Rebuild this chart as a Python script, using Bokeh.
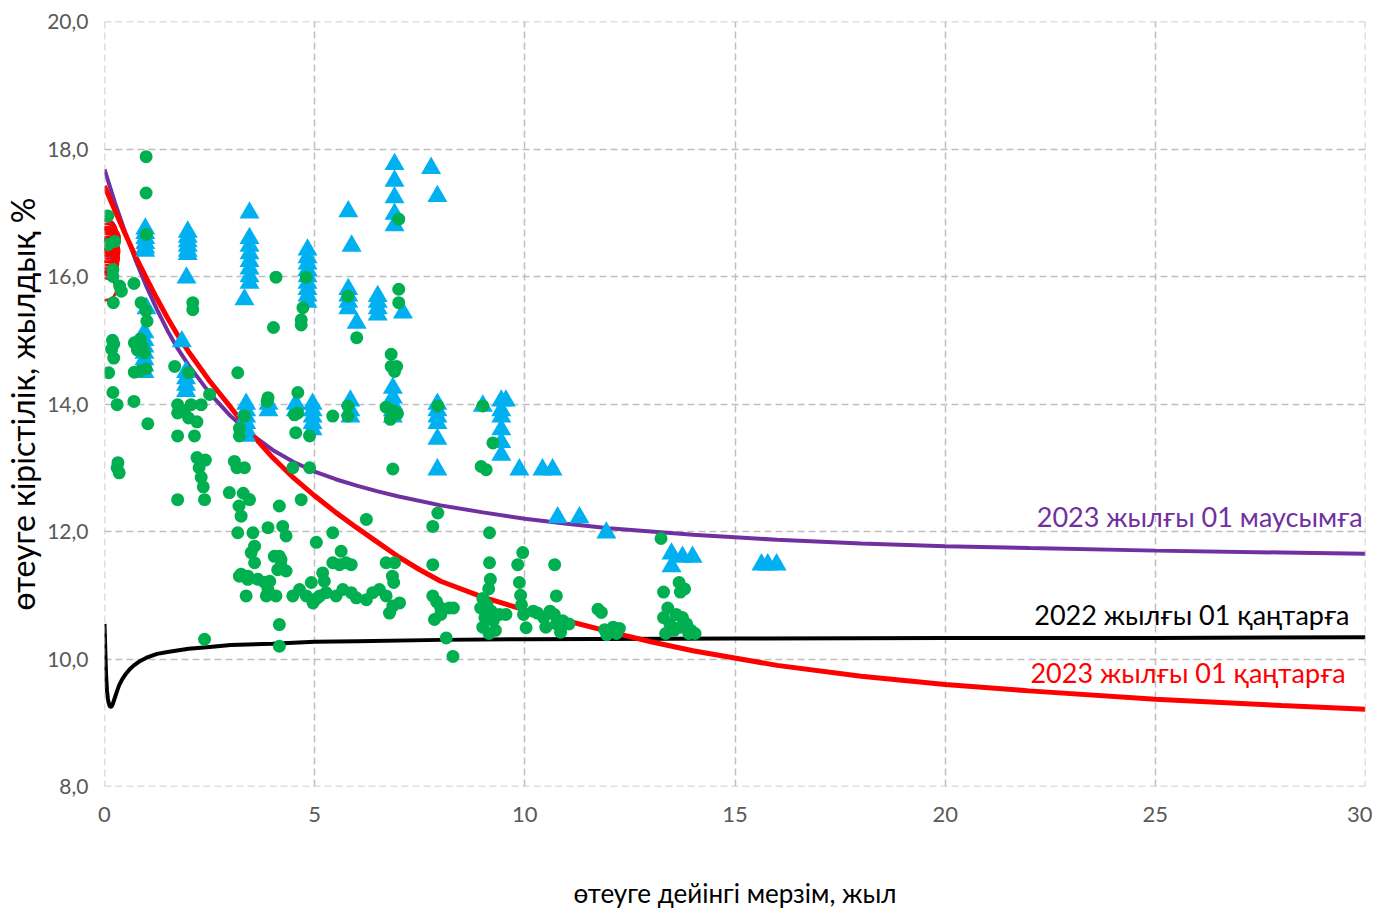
from bokeh.plotting import figure
from bokeh.models import Range1d, FixedTicker, Span
from bokeh.core.properties import value
from bokeh.embed import file_html
from bokeh.resources import INLINE

# ---------------- data ----------------
x_ticks = [0, 5, 10, 15, 20, 25, 30]
y_ticks = [8, 10, 12, 14, 16, 18, 20]
y_tick_labels = ["8,0", "10,0", "12,0", "14,0", "16,0", "18,0", "20,0"]

# fitted curves
jun23_x = [0, 0.25, 0.5, 0.75, 1, 1.25, 1.5, 1.75, 2, 2.5, 3, 3.5, 4, 4.5, 5, 5.5, 6, 6.5, 7, 8, 9, 10, 11, 12,
           14, 16, 18, 20, 22, 25, 28, 30]
jun23_y = [17.68, 17.155, 16.68, 16.24, 15.84, 15.48, 15.15, 14.86, 14.61, 14.17, 13.81, 13.52, 13.28, 13.09,
           12.94, 12.82, 12.72, 12.63, 12.55, 12.41, 12.3, 12.2, 12.12, 12.05, 11.95, 11.87, 11.81, 11.77,
           11.74, 11.7, 11.67, 11.65]

jan23_x = [0, 0.25, 0.5, 0.75, 1, 1.25, 1.5, 1.75, 2, 2.5, 3, 3.5, 4, 4.5, 5, 5.5, 6, 6.5, 7, 7.5, 8, 9, 10, 11,
           12, 13, 14, 16, 18, 20, 22, 25, 28, 30]
jan23_y = [17.42, 17.03, 16.66, 16.3, 15.97, 15.65, 15.35, 15.07, 14.82, 14.36, 13.95, 13.53, 13.16, 12.84,
           12.56, 12.3, 12.06, 11.83, 11.6, 11.4, 11.22, 10.97, 10.77, 10.6, 10.43, 10.27, 10.13, 9.9, 9.73,
           9.6, 9.5, 9.37, 9.27, 9.21]

jan22_x = [0, 0.01, 0.02, 0.03, 0.04, 0.06, 0.08, 0.1, 0.12, 0.14, 0.16, 0.18, 0.2, 0.25, 0.3, 0.35, 0.42, 0.5,
           0.6, 0.7, 0.85, 1, 1.25, 1.5, 2, 2.5, 3, 4, 5, 6, 8, 10, 15, 20, 25, 30]
jan22_y = [10.55, 10.35, 10.12, 9.9, 9.72, 9.5, 9.38, 9.31, 9.27, 9.25, 9.25, 9.27, 9.3, 9.4, 9.5, 9.59, 9.68,
           9.76, 9.84, 9.9, 9.97, 10.02, 10.08, 10.11, 10.16, 10.19, 10.22, 10.24, 10.27, 10.28, 10.3, 10.31,
           10.32, 10.33, 10.33, 10.34]

# observed yields — green dots
green_x = [0.08, 0.08, 0.24, 0.20, 0.20, 0.36, 0.40, 0.21, 0.19, 0.22,
           0.17, 0.22, 0.10, 0.20, 0.30, 0.32, 0.30, 0.35, 0.70, 0.99,
           0.99, 0.99, 0.87, 0.99, 1.01, 0.71, 0.85, 0.90, 0.95, 0.78,
           0.71, 0.85, 0.99, 0.70, 1.03, 2.10, 2.10, 1.67, 2.00, 1.74,
           1.74, 2.06, 2.30, 2.50, 1.90, 2.00, 2.20, 1.74, 2.14, 2.20,
           2.30, 2.40, 2.25, 2.30, 2.35, 1.74, 2.38, 2.38, 3.17, 3.33,
           3.21, 3.21, 3.09, 3.15, 3.33, 2.97, 3.30, 3.45, 3.20, 3.25,
           3.17, 3.53, 3.57, 3.49, 3.57, 3.25, 3.41, 3.65, 3.93, 3.89,
           3.85, 4.08, 4.04, 4.20, 4.32, 4.12, 3.37, 3.89, 4.24, 4.32,
           4.16, 4.20, 3.21, 3.41, 3.81, 3.87, 3.89, 4.08, 4.80, 4.72,
           4.68, 4.68, 4.02, 4.60, 4.60, 4.52, 4.55, 4.88, 4.48, 4.88,
           4.16, 4.68, 5.43, 5.04, 5.43, 4.16, 4.16, 4.48, 4.64, 4.80,
           4.96, 5.12, 5.27, 5.51, 5.67, 5.87, 5.99, 6.23, 6.38, 6.54,
           6.70, 6.86, 7.02, 6.78, 4.92, 5.19, 5.23, 5.43, 5.63, 5.75,
           5.87, 6.23, 5.05, 6.70, 6.90, 6.85, 6.88, 5.59, 5.79, 5.79,
           6.70, 6.85, 6.97, 6.80, 7.00, 7.00, 7.00, 5.79, 6.00, 6.82,
           6.82, 6.95, 6.90, 6.86, 7.93, 7.93, 7.81, 7.81, 7.81, 7.90,
           8.00, 8.20, 8.30, 7.85, 8.00, 8.13, 8.29, 9.00, 9.24, 8.96,
           9.08, 9.16, 9.16, 9.18, 9.14, 9.00, 8.95, 9.10, 9.20, 9.05,
           9.25, 9.00, 9.30, 9.40, 9.55, 9.15, 9.95, 9.83, 9.87, 9.90,
           9.92, 9.97, 10.03, 10.20, 10.30, 10.45, 10.60, 10.70, 10.50, 10.75,
           10.90, 11.05, 10.85, 10.71, 10.75, 11.74, 11.82, 11.90, 12.00, 12.10,
           12.18, 11.95, 12.25, 13.24, 13.67, 13.80, 13.70, 13.30, 13.40, 13.30,
           13.45, 13.60, 13.75, 13.85, 13.95, 14.05, 13.90, 13.35, 13.55, 13.70]
green_y = [16.95, 16.50, 16.55, 16.11, 16.00, 15.85, 15.77, 15.59, 15.00, 14.94,
           14.86, 14.72, 14.49, 14.18, 13.99, 13.08, 13.00, 12.92, 15.89, 17.88,
           17.31, 16.66, 15.59, 15.46, 15.30, 14.96, 15.02, 14.90, 14.80, 14.85,
           14.50, 14.52, 14.55, 14.04, 13.69, 15.59, 15.48, 14.59, 14.49, 13.99,
           13.86, 13.99, 13.99, 14.15, 13.90, 13.78, 13.72, 13.50, 13.50, 13.16,
           13.10, 13.12, 13.00, 12.85, 12.70, 12.50, 12.50, 10.31, 14.49, 13.81,
           13.62, 13.50, 13.10, 13.00, 13.00, 12.61, 12.60, 12.50, 12.40, 12.24,
           11.98, 11.98, 11.77, 11.67, 11.51, 11.33, 11.25, 11.25, 11.22, 11.09,
           10.99, 10.99, 11.61, 11.56, 11.38, 11.40, 10.99, 12.06, 12.08, 11.93,
           11.61, 11.46, 11.30, 11.30, 11.20, 14.04, 14.10, 15.99, 15.99, 15.51,
           15.32, 15.24, 15.20, 14.18, 13.86, 13.83, 13.55, 13.50, 13.00, 13.00,
           12.40, 12.50, 13.81, 11.83, 11.98, 10.54, 10.20, 10.99, 11.09, 10.99,
           10.88, 10.99, 11.04, 10.99, 11.09, 11.04, 10.96, 10.93, 11.04, 11.09,
           10.99, 10.83, 10.88, 10.72, 11.20, 11.35, 11.22, 11.51, 11.69, 11.51,
           11.48, 12.19, 10.95, 11.51, 11.51, 11.30, 11.20, 11.48, 13.97, 13.81,
           13.95, 13.90, 13.85, 13.76, 16.90, 15.80, 15.59, 15.69, 15.04, 14.78,
           14.59, 14.59, 14.51, 12.98, 13.97, 12.29, 12.08, 11.48, 10.99, 10.90,
           10.80, 10.80, 10.80, 10.62, 10.70, 10.33, 10.04, 13.97, 13.39, 13.02,
           12.97, 11.98, 11.51, 11.25, 11.10, 10.95, 10.80, 10.85, 10.75, 10.65,
           10.60, 10.50, 10.45, 10.70, 10.70, 10.40, 11.67, 11.48, 11.20, 11.00,
           10.85, 10.70, 10.49, 10.75, 10.72, 10.65, 10.75, 10.70, 10.50, 10.55,
           10.60, 10.55, 10.42, 11.48, 10.99, 10.78, 10.73, 10.46, 10.45, 10.50,
           10.40, 10.38, 10.48, 11.89, 11.20, 11.10, 11.05, 11.05, 10.80, 10.65,
           10.55, 10.70, 10.65, 10.55, 10.45, 10.40, 10.40, 10.40, 10.45, 10.50]

# observed yields — blue triangles
blue_x = [0.97, 0.97, 0.97, 0.97, 0.97, 0.97, 1.00, 0.95, 0.95, 0.95,
          0.95, 0.95, 0.95, 0.95, 1.98, 1.98, 1.98, 1.98, 1.98, 1.98,
          1.95, 1.84, 1.94, 1.94, 1.94, 1.94, 3.45, 3.45, 3.45, 3.45,
          3.45, 3.45, 3.45, 3.45, 3.33, 3.37, 3.37, 3.37, 3.37, 3.37,
          3.37, 3.90, 3.90, 4.55, 4.55, 4.95, 4.95, 4.95, 4.95, 4.95,
          4.83, 4.83, 4.83, 4.83, 4.83, 4.83, 4.83, 4.83, 4.83, 5.80,
          5.88, 5.80, 5.80, 5.80, 5.80, 6.00, 5.85, 5.85, 5.85, 6.50,
          6.50, 6.50, 6.50, 6.90, 6.90, 6.90, 6.90, 6.90, 7.10, 7.77,
          7.92, 6.86, 6.86, 6.86, 6.86, 6.86, 7.92, 7.92, 7.92, 7.92,
          7.92, 7.92, 9.00, 9.44, 9.44, 9.44, 9.44, 9.44, 9.44, 9.55,
          9.87, 10.42, 10.66, 10.78, 11.30, 11.94, 13.49, 13.49, 13.75, 13.99,
          15.63, 15.78, 15.99]
blue_y = [16.75, 16.68, 16.60, 16.52, 16.45, 16.40, 15.50, 15.12, 15.00, 14.90,
          14.80, 14.70, 14.60, 14.50, 16.70, 16.62, 16.55, 16.48, 16.40, 16.35,
          15.98, 14.98, 14.50, 14.40, 14.30, 14.20, 17.00, 16.60, 16.48, 16.36,
          16.24, 16.12, 16.00, 15.90, 15.64, 14.00, 13.90, 13.80, 13.70, 13.60,
          13.50, 14.00, 13.90, 14.00, 13.90, 14.00, 13.90, 13.80, 13.70, 13.60,
          16.42, 16.30, 16.20, 16.10, 16.00, 15.90, 15.80, 15.70, 15.60, 17.02,
          16.48, 15.80, 15.70, 15.60, 15.50, 15.27, 14.05, 13.90, 13.80, 15.69,
          15.60, 15.50, 15.40, 17.76, 17.50, 17.24, 16.98, 16.80, 15.43, 17.70,
          17.26, 14.25, 14.10, 14.00, 13.90, 13.80, 14.00, 13.90, 13.80, 13.70,
          13.45, 12.97, 13.97, 14.05, 13.90, 13.80, 13.60, 13.40, 13.20, 14.05,
          12.97, 12.97, 12.97, 12.22, 12.22, 11.98, 11.65, 11.45, 11.60, 11.60,
          11.48, 11.48, 11.48]

# short-end observations — open circles
red_circ_x = [0.03, 0.05, 0.03, 0.06, 0.04, 0.07, 0.03, 0.05, 0.08, 0.04, 0.06, 0.10, 0.09, 0.07, 0.05, 0.02]
red_circ_y = [16.70, 16.65, 16.60, 16.55, 16.50, 16.45, 16.40, 16.35, 16.30, 16.25, 16.20, 16.60, 16.40, 16.28,
              16.52, 15.80]
purple_circ_x = [0.05, 0.08, 0.06, 0.05]
purple_circ_y = [16.75, 16.60, 16.45, 16.20]

labels = ["2023 жылғы 01 маусымға", "2022 жылғы 01 қаңтарға", "2023 жылғы 01 қаңтарға"]
label_x = [29.93, 29.62, 29.53]
label_y = [12.24, 10.70, 9.79]
label_colors = ["#7030A0", "#000000", "#FF0000"]

# ---------------- figure ----------------
FONT = "Lato"
GRID = "#BFBFBF"
p = figure(width=1372, height=911, output_backend="svg", toolbar_location=None,
           x_range=Range1d(0, 30), y_range=Range1d(8, 20),
           min_border_left=104, min_border_right=7, min_border_top=21, min_border_bottom=125)
p.outline_line_color = None
p.background_fill_color = "white"

for ax in (p.xaxis[0], p.yaxis[0]):
    ax.axis_line_color = None
    ax.major_tick_line_color = None
    ax.minor_tick_line_color = None
    ax.major_tick_out = 0
    ax.major_tick_in = 0
    ax.major_label_text_color = "#595959"
    ax.major_label_text_font = FONT
    ax.axis_label_text_font = FONT
    ax.axis_label_text_font_style = "normal"
    ax.axis_label_text_color = "#000000"

p.xaxis.ticker = FixedTicker(ticks=x_ticks)
p.yaxis.ticker = FixedTicker(ticks=y_ticks)
p.yaxis.major_label_overrides = {t: l for t, l in zip(y_ticks, y_tick_labels)}
p.xaxis.major_label_text_font_size = "22px"
p.yaxis.major_label_text_font_size = "21px"
p.xaxis.major_label_standoff = 20
p.yaxis.major_label_standoff = 16
p.xaxis.axis_label = "өтеуге дейінгі мерзім, жыл"
p.yaxis.axis_label = "өтеуге кірістілік, жылдық %"
p.xaxis.axis_label_text_font_size = "26px"
p.yaxis.axis_label_text_font_size = "32px"
p.xaxis.axis_label_standoff = 52
p.yaxis.axis_label_standoff = 2

for g in (p.xgrid[0], p.ygrid[0]):
    g.grid_line_color = GRID
    g.grid_line_dash = "7 4"
    g.grid_line_width = 1.5
p.xgrid.ticker = FixedTicker(ticks=x_ticks)
p.ygrid.ticker = FixedTicker(ticks=y_ticks)

# frame edges drawn as dashed grid lines, like the interior ones
for loc in (x_ticks[0], x_ticks[-1]):
    p.add_layout(Span(location=loc, dimension="height", line_color=GRID,
                      line_dash="7 4", line_width=1.5))
for loc in (y_ticks[0], y_ticks[-1]):
    p.add_layout(Span(location=loc, dimension="width", line_color=GRID,
                      line_dash="7 4", line_width=1.5))

# curves
p.line(jan22_x, jan22_y, line_color="#000000", line_width=4)
p.line(jun23_x, jun23_y, line_color="#7030A0", line_width=4)
p.line(jan23_x, jan23_y, line_color="#FF0000", line_width=5)

# markers
p.scatter(purple_circ_x, purple_circ_y, marker="circle", size=18, fill_color=None,
          line_color="#7030A0", line_width=2)
p.scatter(red_circ_x, red_circ_y, marker="circle", size=22, fill_color=None,
          line_color="#FF0000", line_width=2.5)
p.scatter(blue_x, blue_y, marker="triangle", size=20, fill_color="#00B0F0",
          line_color=None)
p.scatter(green_x, green_y, marker="circle", size=13, fill_color="#00B050",
          line_color=None)

# curve labels
p.text(x=label_x, y=label_y, text=labels, text_color=label_colors,
       text_align="right", text_baseline="middle",
       text_font=value(FONT), text_font_size="27px")

open("out.html", "w").write(file_html(p, INLINE))
